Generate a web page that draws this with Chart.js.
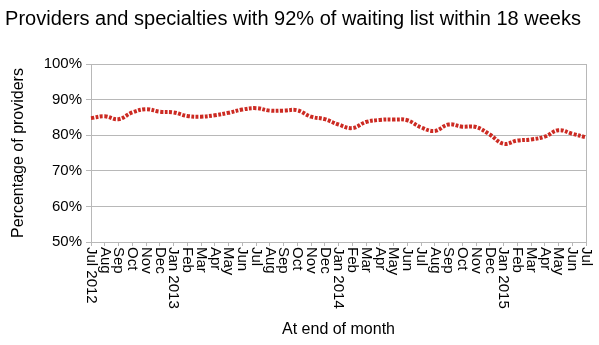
<!DOCTYPE html>
<html>
<head>
<meta charset="utf-8">
<script src="https://cdn.jsdelivr.net/npm/chart.js@4"></script>
<style>
  html, body { margin: 0; padding: 0; background: #fff; }
  #wrap { width: 599px; height: 345px; }
</style>
</head>
<body>
<div id="wrap"><canvas id="chart" width="599" height="345"></canvas></div>
<script>
const months = [
  'Jul 2012', 'Aug', 'Sep', 'Oct', 'Nov', 'Dec',
  'Jan 2013', 'Feb', 'Mar', 'Apr', 'May', 'Jun', 'Jul', 'Aug', 'Sep', 'Oct', 'Nov', 'Dec',
  'Jan 2014', 'Feb', 'Mar', 'Apr', 'May', 'Jun', 'Jul', 'Aug', 'Sep', 'Oct', 'Nov', 'Dec',
  'Jan 2015', 'Feb', 'Mar', 'Apr', 'May', 'Jun', 'Jul'
];
const pctWithin18 = [
  84.8, 85.3, 84.5, 86.4, 87.3, 86.6,
  86.4, 85.4, 85.2, 85.6, 86.3, 87.2, 87.6, 86.9, 86.9, 87.0, 85.2, 84.5,
  83.0, 82.0, 83.7, 84.3, 84.4, 84.2, 82.2, 81.2, 83.0, 82.4, 82.3, 80.2,
  77.6, 78.5, 78.8, 79.6, 81.4, 80.4, 79.4
];
const yTicks = [50, 60, 70, 80, 90, 100];

const font = 'Liberation Sans, Arial, sans-serif';
const gridColor = '#b8b8b8';

// x labels read top-to-bottom, so draw them ourselves
const downLabels = {
  id: 'downLabels',
  afterDraw(chart) {
    const s = chart.scales.x;
    const c = chart.ctx;
    c.save();
    c.fillStyle = '#000';
    c.font = '15px ' + font;
    c.textAlign = 'left';
    c.textBaseline = 'middle';
    months.forEach((m, i) => {
      const x = s.getPixelForTick(i);
      c.save();
      c.translate(x, s.top + 5);
      c.rotate(Math.PI / 2);
      c.fillText(m, 0, 0);
      c.restore();
    });
    c.restore();
  }
};

new Chart(document.getElementById('chart'), {
  type: 'line',
  data: {
    labels: months,
    datasets: [{
      data: pctWithin18,
      borderColor: '#cc2a22',
      borderWidth: 4,
      borderDash: [3, 1.5],
      pointRadius: 0,
      tension: 0.4,
      fill: false
    }]
  },
  options: {
    responsive: false,
    animation: false,
    layout: { padding: { left: 0, right: 13, top: 0, bottom: 6 } },
    plugins: {
      legend: { display: false },
      tooltip: { enabled: false },
      title: {
        display: true,
        text: 'Providers and specialties with 92% of waiting list within 18 weeks',
        color: '#000',
        font: { family: font, size: 20, weight: 'normal' },
        padding: { top: 7, bottom: 33 }
      }
    },
    scales: {
      x: {
        offset: false,
        grid: { display: true, drawOnChartArea: false, tickLength: 4, color: gridColor },
        border: { color: gridColor },
        ticks: { display: false },
        title: {
          display: true,
          text: 'At end of month',
          color: '#000',
          font: { family: font, size: 16 },
          padding: { top: 0, bottom: 0 }
        },
        afterFit(s) { s.height = 97; }
      },
      y: {
        min: 50,
        max: 100,
        afterBuildTicks(s) { s.ticks = yTicks.map(v => ({ value: v })); },
        grid: { color: gridColor, tickLength: 5 },
        border: { color: gridColor },
        ticks: {
          color: '#000',
          font: { family: font, size: 15 },
          padding: 4,
          callback: v => v + '%'
        },
        title: {
          display: true,
          text: 'Percentage of providers',
          color: '#000',
          font: { family: font, size: 16 },
          padding: { top: 9, bottom: 0 }
        },
        afterFit(s) { s.width = 91; }
      }
    }
  },
  plugins: [downLabels, {
    id: 'rightBorder',
    afterDraw(chart) {
      const a = chart.chartArea, c = chart.ctx;
      c.save();
      c.strokeStyle = gridColor;
      c.lineWidth = 1;
      c.beginPath();
      c.moveTo(Math.round(a.right) + 0.5, a.top);
      c.lineTo(Math.round(a.right) + 0.5, a.bottom);
      c.stroke();
      c.restore();
    }
  }]
});
</script>
</body>
</html>
